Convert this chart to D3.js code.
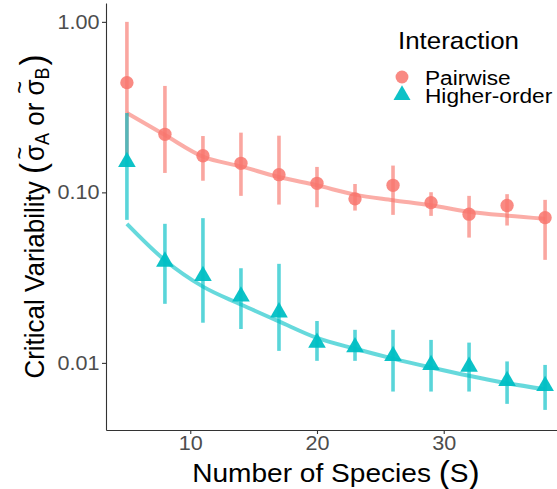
<!DOCTYPE html>
<html>
<head>
<meta charset="utf-8">
<script src="https://cdn.jsdelivr.net/npm/d3@7"></script>
<style>
body { margin: 0; background: #fff; }
text { font-family: "Liberation Sans", Arial, sans-serif; }
</style>
</head>
<body>
<div id="chart"></div>
<script>
// data
var species = [5, 8, 11, 14, 17, 20, 23, 26, 29, 32, 35, 38];

var pairMean = [0.44, 0.219, 0.164, 0.148, 0.127, 0.113, 0.0916, 0.110, 0.0871, 0.0745, 0.0837, 0.0711];
var pairLo   = [0.166, 0.130, 0.117, 0.0954, 0.0848, 0.0818, 0.0782, 0.0738, 0.0728, 0.0543, 0.0639, 0.0402];
var pairHi   = [1.0, 0.421, 0.214, 0.224, 0.215, 0.141, 0.112, 0.1436, 0.1002, 0.0954, 0.0976, 0.0904];
var pairFit  = [0.292, 0.217, 0.162, 0.142, 0.123, 0.110, 0.097, 0.090, 0.084, 0.077, 0.073, 0.070];

var hoMean = [0.151, 0.0393, 0.0324, 0.0245, 0.0198, 0.01315, 0.01236, 0.0110, 0.00973, 0.0095, 0.00784, 0.00733];
var hoLo   = [0.069, 0.0222, 0.0172, 0.0158, 0.01176, 0.01028, 0.01028, 0.00679, 0.00679, 0.00679, 0.00575, 0.0053];
var hoHi   = [0.292, 0.0654, 0.0706, 0.0359, 0.0381, 0.0176, 0.01563, 0.01563, 0.01364, 0.01315, 0.0102, 0.00973];
var hoFit  = [0.0654, 0.040, 0.028, 0.022, 0.0175, 0.014, 0.0121, 0.0106, 0.0094, 0.0084, 0.0076, 0.0070];

var xTicks = [10, 20, 30];
var yTicks = [0.01, 0.10, 1.00];

var pink = '#F8766D', teal = '#00BFC4';
var stretch = 'scale(1.08,1)';

var series = [
  {name: 'Pairwise', color: pink, shape: d3.symbolCircle, mean: pairMean, lo: pairLo, hi: pairHi, fit: pairFit},
  {name: 'Higher-order', color: teal, shape: d3.symbolTriangle, mean: hoMean, lo: hoLo, hi: hoHi, fit: hoFit}
];

//setup
var width = 557, height = 489;
var svg = d3.select('#chart')
  .append('svg')
  .attr('width', width)
  .attr('height', height);

var x = d3.scaleLinear().domain([3.35, 39.65]).range([106, 566]);
var y = d3.scaleLog().domain([0.00404, 1.29]).range([430, 3]);

var line = d3.line()
  .x(function(d) { return x(d[0]); })
  .y(function(d) { return y(d[1]); })
  .curve(d3.curveMonotoneX);

//fit lines
series.forEach(function(s) {
  svg.append('path')
    .datum(species.map(function(v, i) { return [v, s.fit[i]]; }))
    .attr('d', line)
    .attr('fill', 'none')
    .attr('stroke', s.color)
    .attr('stroke-opacity', 0.6)
    .attr('stroke-width', 4);
});

//error bars
series.forEach(function(s) {
  svg.append('g').selectAll('line')
    .data(species)
    .enter()
    .append('line')
    .attr('x1', function(d) { return x(d); })
    .attr('x2', function(d) { return x(d); })
    .attr('y1', function(d, i) { return y(s.lo[i]); })
    .attr('y2', function(d, i) { return y(s.hi[i]); })
    .attr('stroke', s.color)
    .attr('stroke-opacity', 0.65)
    .attr('stroke-width', 3.6);
});

//points
series.forEach(function(s) {
  svg.append('g').selectAll('path')
    .data(species)
    .enter()
    .append('path')
    .attr('transform', function(d, i) { return 'translate(' + x(d) + ',' + y(s.mean[i]) + ')'; })
    .attr('d', d3.symbol().type(s.shape).size(s.shape === d3.symbolCircle ? 140 : 135))
    .attr('fill', s.color)
    .attr('fill-opacity', s.shape === d3.symbolCircle ? 0.85 : 0.95);
});

//axes
var yAxis = svg.append('g')
  .attr('transform', 'translate(106,0)')
  .call(d3.axisLeft(y).tickValues(yTicks).tickFormat(d3.format('.2f')).tickSize(4).tickSizeOuter(0).tickPadding(2));

var xAxis = svg.append('g')
  .attr('transform', 'translate(0,430)')
  .call(d3.axisBottom(x).tickValues(xTicks).tickSize(4).tickSizeOuter(0).tickPadding(2));

[yAxis, xAxis].forEach(function(a) {
  a.select('.domain').attr('stroke', '#333').attr('stroke-width', 1.1);
  a.selectAll('.tick line').attr('stroke', '#333').attr('stroke-width', 1.1);
  a.selectAll('.tick text')
    .attr('fill', '#4d4d4d')
    .attr('font-size', 20)
    .attr('font-family', '"Liberation Sans", Arial, sans-serif')
    .attr('transform', stretch);
});

//axis titles
var xTitle = svg.append('text')
  .attr('transform', 'translate(336,482) ' + stretch)
  .attr('text-anchor', 'middle')
  .attr('font-size', 26)
  .attr('fill', '#000');
xTitle.append('tspan').text('Number of Species ');
xTitle.append('tspan').attr('font-size', 31).attr('dy', 1).text('(');
xTitle.append('tspan').attr('dy', -1).text('S');
xTitle.append('tspan').attr('font-size', 31).attr('dy', 1).text(')');

var yTitleG = svg.append('g')
  .attr('transform', 'translate(43.5,216.5) ' + stretch + ' rotate(-90)');
var yTitle = yTitleG.append('text')
  .attr('text-anchor', 'middle')
  .attr('font-size', 26)
  .attr('fill', '#000');
yTitle.append('tspan').text('Critical Variability ');
yTitle.append('tspan').attr('font-size', 33).attr('dy', 1.5).text('(');
yTitle.append('tspan').attr('dy', -1.5).attr('dx', 2).text('σ');
yTitle.append('tspan').attr('font-size', 18).attr('dy', 5).text('A');
yTitle.append('tspan').attr('dy', -5).text(' or ');
yTitle.append('tspan').text('σ');
yTitle.append('tspan').attr('font-size', 18).attr('dy', 5).text('B');
yTitle.append('tspan').attr('font-size', 33).attr('dy', -3.5).attr('dx', 2).text(')');

// tildes over each sigma
var titleNode = yTitle.node();
var full = titleNode.textContent;
for (var ci = 0; ci < full.length; ci++) {
  if (full[ci] !== 'σ') continue;
  var ext = titleNode.getExtentOfChar(ci);
  yTitleG.append('text')
    .attr('x', ext.x + ext.width / 2)
    .attr('y', -14)
    .attr('text-anchor', 'middle')
    .attr('font-size', 22)
    .attr('fill', '#000')
    .text('~');
}

//legend
svg.append('text')
  .attr('transform', 'translate(398,49) ' + stretch)
  .attr('font-size', 24)
  .attr('fill', '#000')
  .text('Interaction');

var legend = svg.append('g').selectAll('g')
  .data(series)
  .enter()
  .append('g')
  .attr('transform', function(d, i) { return 'translate(402,' + (77 + i * 18) + ')'; });

legend.append('path')
  .attr('d', function(d) { return d3.symbol().type(d.shape).size(d.shape === d3.symbolCircle ? 130 : 125)(); })
  .attr('fill', function(d) { return d.color; })
  .attr('fill-opacity', function(d) { return d.shape === d3.symbolCircle ? 0.85 : 0.95; });

legend.append('text')
  .attr('transform', 'translate(23,7.5) ' + stretch)
  .attr('font-size', 21)
  .attr('fill', '#000')
  .text(function(d) { return d.name; });
</script>
</body>
</html>
